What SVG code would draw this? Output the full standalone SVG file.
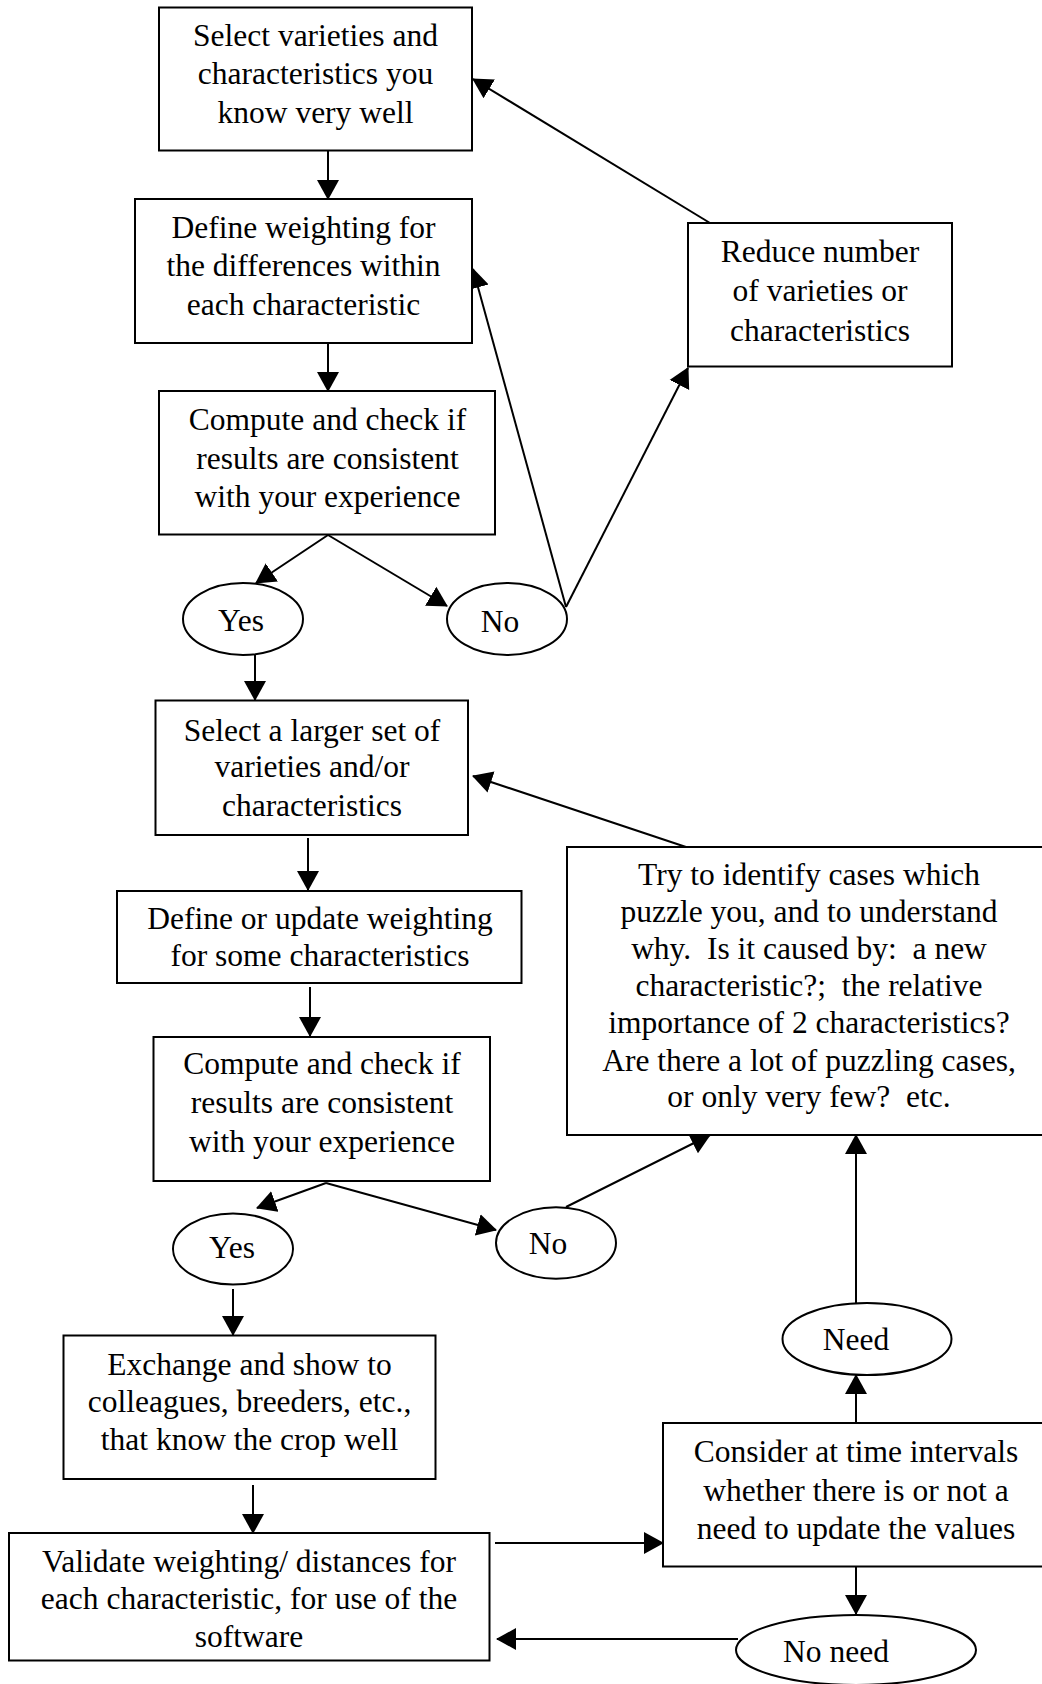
<svg xmlns="http://www.w3.org/2000/svg" width="1042" height="1684" viewBox="0 0 1042 1684">
<style>
.box{fill:#fff;stroke:#000;stroke-width:2}
.t{font-family:"Liberation Serif","Times New Roman",serif;font-size:31.5px;fill:#000;text-anchor:middle;white-space:pre}
.c{fill:none;stroke:#000;stroke-width:2;marker-end:url(#ah)}
.l{fill:none;stroke:#000;stroke-width:2}
</style>
<defs>
<marker id="ah" markerUnits="userSpaceOnUse" markerWidth="21" markerHeight="23" refX="19" refY="11" orient="auto" viewBox="0 0 21 22">
<path d="M0,0 L20,11 L0,22 z" fill="#000"/>
</marker>
</defs>
<rect width="1042" height="1684" fill="#fff"/>
<g id="connectors">
<line class="c" x1="328" y1="151" x2="328" y2="199"/>
<line class="c" x1="328" y1="343" x2="328" y2="391"/>
<line class="c" x1="328" y1="535" x2="256" y2="583"/>
<line class="c" x1="328" y1="535" x2="447" y2="606"/>
<line class="c" x1="566" y1="607" x2="473" y2="269"/>
<line class="c" x1="566" y1="607" x2="688" y2="368"/>
<line class="c" x1="710" y1="223" x2="473" y2="79"/>
<line class="c" x1="255" y1="655" x2="255" y2="700"/>
<line class="c" x1="308" y1="838" x2="308" y2="890"/>
<line class="c" x1="310" y1="987" x2="310" y2="1036"/>
<line class="c" x1="326" y1="1183" x2="257" y2="1208"/>
<line class="c" x1="326" y1="1183" x2="496" y2="1230"/>
<line class="c" x1="566" y1="1207" x2="710" y2="1135"/>
<line class="c" x1="686" y1="847" x2="473" y2="776"/>
<line class="c" x1="856" y1="1303" x2="856" y2="1135"/>
<line class="c" x1="856" y1="1423" x2="856" y2="1375"/>
<line class="c" x1="856" y1="1567" x2="856" y2="1614"/>
<line class="c" x1="495" y1="1543" x2="663" y2="1543"/>
<line class="c" x1="738" y1="1639" x2="497" y2="1639"/>
<line class="c" x1="233" y1="1289" x2="233" y2="1335"/>
<line class="c" x1="253" y1="1485" x2="253" y2="1533"/>
</g>
<g id="n1"><rect class="box" x="159" y="7.5" width="313" height="143"/>
<text class="t" x="315.5" y="45.5">Select varieties and</text>
<text class="t" x="315.5" y="84">characteristics you</text>
<text class="t" x="315.5" y="123">know very well</text></g>
<g id="n2"><rect class="box" x="135" y="199" width="337" height="144"/>
<text class="t" x="303.5" y="237.5">Define weighting for</text>
<text class="t" x="303.5" y="276">the differences within</text>
<text class="t" x="303.5" y="315">each characteristic</text></g>
<g id="n3"><rect class="box" x="159" y="391" width="336" height="143.5"/>
<text class="t" x="327.5" y="430">Compute and check if</text>
<text class="t" x="327.5" y="468.5">results are consistent</text>
<text class="t" x="327.5" y="507">with your experience</text></g>
<g id="reduce"><rect class="box" x="688" y="223" width="264" height="143.5"/>
<text class="t" x="820" y="262">Reduce number</text>
<text class="t" x="820" y="300.5">of varieties or</text>
<text class="t" x="820" y="340.5">characteristics</text></g>
<g id="yes1"><ellipse class="box" cx="243" cy="619" rx="60" ry="36"/>
<text class="t" x="241" y="631">Yes</text></g>
<g id="no1"><ellipse class="box" cx="507" cy="619" rx="60" ry="36"/>
<text class="t" x="500" y="632">No</text></g>
<g id="n4"><rect class="box" x="155.5" y="700.5" width="312.5" height="134.5"/>
<text class="t" x="312" y="741">Select a larger set of</text>
<text class="t" x="312" y="777">varieties and/or</text>
<text class="t" x="312" y="816">characteristics</text></g>
<g id="n5"><rect class="box" x="117" y="891" width="404.5" height="92"/>
<text class="t" x="320" y="928.5">Define or update weighting</text>
<text class="t" x="320" y="965.5">for some characteristics</text></g>
<g id="n6"><rect class="box" x="153.5" y="1037" width="336.5" height="144"/>
<text class="t" x="322" y="1074">Compute and check if</text>
<text class="t" x="322" y="1113">results are consistent</text>
<text class="t" x="322" y="1152">with your experience</text></g>
<g id="try"><rect class="box" x="567" y="847" width="500" height="288"/>
<text class="t" x="809" y="885">Try to identify cases which</text>
<text class="t" x="809" y="922">puzzle you, and to understand</text>
<text class="t" x="809" y="959">why.  Is it caused by:  a new</text>
<text class="t" x="809" y="996">characteristic?;  the relative</text>
<text class="t" x="809" y="1033">importance of 2 characteristics?</text>
<text class="t" x="809" y="1071">Are there a lot of puzzling cases,</text>
<text class="t" x="809" y="1107">or only very few?  etc.</text></g>
<g id="yes2"><ellipse class="box" cx="233" cy="1249" rx="60" ry="35.5"/>
<text class="t" x="232" y="1258">Yes</text></g>
<g id="no2"><ellipse class="box" cx="556" cy="1243" rx="60" ry="35.7"/>
<text class="t" x="548" y="1254">No</text></g>
<g id="need"><ellipse class="box" cx="867" cy="1339" rx="84.5" ry="36"/>
<text class="t" x="856" y="1350">Need</text></g>
<g id="exchange"><rect class="box" x="63.5" y="1335.5" width="372" height="143.5"/>
<text class="t" x="249.5" y="1375">Exchange and show to</text>
<text class="t" x="249.5" y="1411.5">colleagues, breeders, etc.,</text>
<text class="t" x="249.5" y="1450">that know the crop well</text></g>
<g id="consider"><rect class="box" x="663" y="1423" width="420" height="143.5"/>
<text class="t" x="856" y="1462">Consider at time intervals</text>
<text class="t" x="856" y="1501">whether there is or not a</text>
<text class="t" x="856" y="1539">need to update the values</text></g>
<g id="validate"><rect class="box" x="9" y="1533" width="480.5" height="127.5"/>
<text class="t" x="249" y="1572">Validate weighting/ distances for</text>
<text class="t" x="249" y="1608.5">each characteristic, for use of the</text>
<text class="t" x="249" y="1647">software</text></g>
<g id="noneed"><ellipse class="box" cx="856" cy="1650" rx="120" ry="35"/>
<text class="t" x="836" y="1662">No need</text></g>
</svg>
